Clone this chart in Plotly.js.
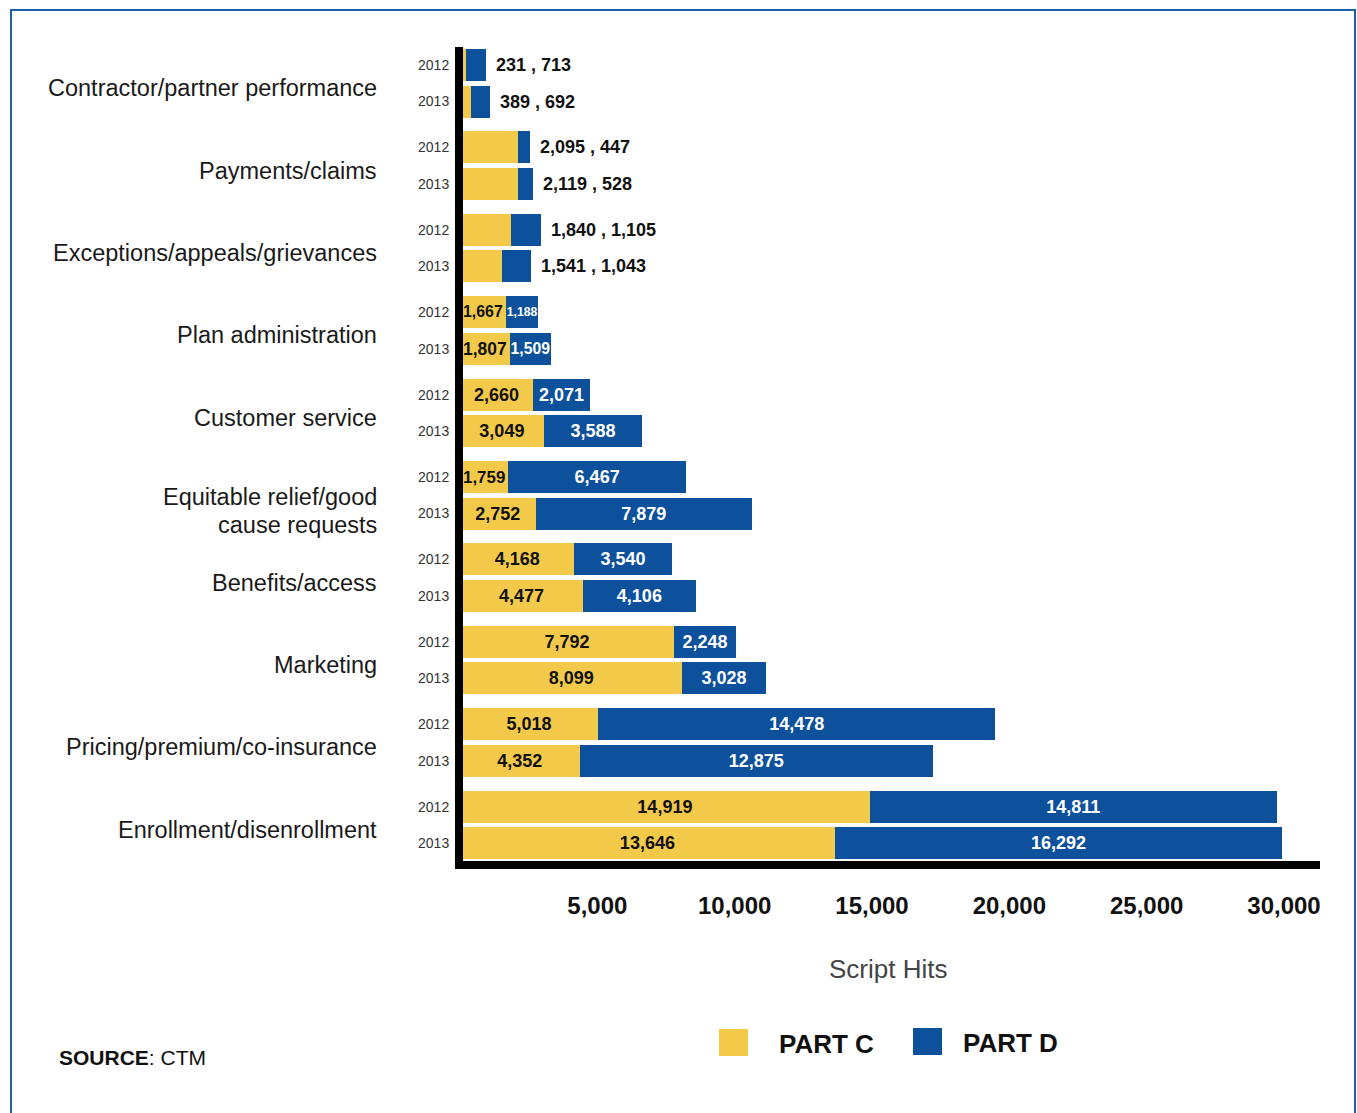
<!DOCTYPE html>
<html>
<head>
<meta charset="utf-8">
<script src="https://cdn.plot.ly/plotly-3.0.1.min.js"></script>
<style>
  html, body { margin: 0; padding: 0; background: #ffffff; }
  #chart { width: 1357px; height: 1113px; }
</style>
</head>
<body>
<div id="chart"></div>
<script>
// Complaint categories, top to bottom
const categories = [
  'Contractor/partner performance',
  'Payments/claims',
  'Exceptions/appeals/grievances',
  'Plan administration',
  'Customer service',
  'Equitable relief/good<br>cause requests',
  'Benefits/access',
  'Marketing',
  'Pricing/premium/co-insurance',
  'Enrollment/disenrollment'
];
const years = ['2012', '2013'];

// Script hits per category
const partC2012 = [231, 2095, 1840, 1667, 2660, 1759, 4168, 7792, 5018, 14919];
const partD2012 = [713, 447, 1105, 1188, 2071, 6467, 3540, 2248, 14478, 14811];
const partC2013 = [389, 2119, 1541, 1807, 3049, 2752, 4477, 8099, 4352, 13646];
const partD2013 = [692, 528, 1043, 1509, 3588, 7879, 4106, 3028, 12875, 16292];

const xTicks = [5000, 10000, 15000, 20000, 25000, 30000];
const seriesNames = ['PART C', 'PART D'];
const xTitle = 'Script Hits';
const sourceNote = '<b>SOURCE</b>: CTM';

// Small categories get a "C , D" label beside the bar instead of inside it
const OUTSIDE_LABEL_GROUPS = 3;

// ---- layout geometry ----
const W = 1357, H = 1113;
const ML = 460, MR = 37, MT = 47, MB = 252;
const PW = W - ML - MR, PH = H - MT - MB;
const PX_PER_UNIT = (1284 - ML) / 30000;  // horizontal scale
const GROUP_STEP = 82.4;                  // px between category groups
const YEAR_OFFSET = 0.444;                // 2013 row offset inside a group
const BAR_W = 0.39;
const LABEL_LINE_PX = 28;                 // line spacing of wrapped category names
const FONT = 'Liberation Sans, Arial, Helvetica, sans-serif';
const YELLOW = '#F3C94A';
const BLUE = '#0D519D';
const VALUE_SIZE = 18;

const px2x = p => (p - ML) / PW;
const py2y = p => (MT + PH - p) / PH;
const fmt = v => v.toLocaleString('en-US');

const yTop = -18 / GROUP_STEP;
const yBottom = yTop + PH / GROUP_STEP;

// rows: one per category and year
const rowY = [], rowC = [], rowD = [], rowYear = [], rowGroup = [];
categories.forEach((c, g) => {
  [[partC2012, partD2012], [partC2013, partD2013]].forEach((pair, j) => {
    rowY.push(g + j * YEAR_OFFSET);
    rowC.push(pair[0][g]);
    rowD.push(pair[1][g]);
    rowYear.push(years[j]);
    rowGroup.push(g);
  });
});

const insideC = rowC.map((v, i) => rowGroup[i] < OUTSIDE_LABEL_GROUPS ? '' : fmt(v));
const insideD = rowD.map((v, i) => rowGroup[i] < OUTSIDE_LABEL_GROUPS ? '' : fmt(v));

// Part D labels keep full size unless their segment is too narrow
const ctx = document.createElement('canvas').getContext('2d');
ctx.font = 'bold ' + VALUE_SIZE + 'px "Liberation Sans", Arial, sans-serif';
const sizeD = rowD.map((v, i) => {
  const w = ctx.measureText(insideD[i] || '0').width;
  const room = v * PX_PER_UNIT - 2;
  return Math.min(VALUE_SIZE, VALUE_SIZE * room / w);
});

const labelFont = { family: FONT, size: VALUE_SIZE, weight: 'bold' };

const traces = [
  {
    type: 'bar', orientation: 'h', name: seriesNames[0],
    x: rowC, y: rowY, width: BAR_W,
    marker: { color: YELLOW, line: { width: 0 } },
    text: insideC, textposition: 'inside', insidetextanchor: 'middle',
    textangle: 0, constraintext: 'inside',
    insidetextfont: Object.assign({}, labelFont, { color: '#111111' }),
    hoverinfo: 'skip'
  },
  {
    type: 'bar', orientation: 'h', name: seriesNames[1],
    x: rowD, y: rowY, width: BAR_W,
    marker: { color: BLUE, line: { width: 0 } },
    text: insideD, textposition: 'inside', insidetextanchor: 'middle',
    textangle: 0, constraintext: 'none',
    insidetextfont: Object.assign({}, labelFont, { color: '#ffffff', size: sizeD }),
    hoverinfo: 'skip'
  }
];

const annotations = [];

// "C , D" labels beside the short bars
rowY.forEach((y, i) => {
  if (rowGroup[i] >= OUTSIDE_LABEL_GROUPS) return;
  annotations.push({
    xref: 'x', yref: 'y', x: rowC[i] + rowD[i], y: y,
    xanchor: 'left', yanchor: 'middle', xshift: 8, showarrow: false,
    text: fmt(rowC[i]) + ' , ' + fmt(rowD[i]),
    font: Object.assign({}, labelFont, { color: '#111111' })
  });
});

// category names, one annotation per text line
categories.forEach((c, g) => {
  const lines = c.split('<br>');
  const base = lines.length > 1 ? -2 : -5;
  lines.forEach((line, k) => {
    annotations.push({
      xref: 'paper', yref: 'y', x: px2x(379), y: g + YEAR_OFFSET / 2,
      xanchor: 'right', yanchor: 'middle', align: 'right',
      yshift: base - LABEL_LINE_PX * k,
      text: line, showarrow: false,
      font: { family: FONT, size: 23.5, color: '#1a1a1a' }
    });
  });
});

annotations.push({
  xref: 'paper', yref: 'paper', x: px2x(888), y: py2y(969),
  xanchor: 'center', yanchor: 'middle', showarrow: false,
  text: xTitle, font: { family: FONT, size: 26, color: '#444444' }
});
annotations.push({
  xref: 'paper', yref: 'paper', x: px2x(777), y: py2y(1044),
  xanchor: 'left', yanchor: 'middle', showarrow: false,
  text: '<b>' + seriesNames[0] + '</b>', font: { family: FONT, size: 26, color: '#111111' }
});
annotations.push({
  xref: 'paper', yref: 'paper', x: px2x(961), y: py2y(1043),
  xanchor: 'left', yanchor: 'middle', showarrow: false,
  text: '<b>' + seriesNames[1] + '</b>', font: { family: FONT, size: 26, color: '#111111' }
});
annotations.push({
  xref: 'paper', yref: 'paper', x: px2x(57), y: py2y(1057),
  xanchor: 'left', yanchor: 'middle', showarrow: false,
  text: sourceNote, font: { family: FONT, size: 21, color: '#111111' }
});

const rectPx = (x0, y0, x1, y1, fill, line) => Object.assign({
  type: 'rect', xref: 'paper', yref: 'paper', layer: 'above',
  x0: px2x(x0), x1: px2x(x1), y0: py2y(y0), y1: py2y(y1)
}, fill ? { fillcolor: fill, line: { width: 0 } } : { fillcolor: 'rgba(0,0,0,0)', line: line });

const shapes = [
  // frame
  rectPx(11, 10, 1355, 1130, null, { color: '#1F5FA8', width: 2 }),
  // heavy axis lines
  rectPx(455, 47, 463, 869, '#000000'),
  rectPx(455, 861, 1320, 869, '#000000'),
  // legend swatches
  rectPx(719, 1029, 748, 1056, YELLOW),
  rectPx(913, 1028, 942, 1055, BLUE)
];

const layout = {
  width: W, height: H,
  margin: { l: ML, r: MR, t: MT, b: MB, pad: 0 },
  paper_bgcolor: '#ffffff', plot_bgcolor: '#ffffff',
  barmode: 'stack', bargap: 0,
  showlegend: false,
  font: { family: FONT },
  xaxis: {
    range: [0, PW / PX_PER_UNIT],
    tickvals: xTicks, tickformat: ',d',
    ticks: 'outside', ticklen: 23, tickcolor: 'rgba(0,0,0,0)',
    tickfont: { family: FONT, size: 24, color: '#111111', weight: 'bold' },
    showgrid: false, zeroline: false, showline: false, fixedrange: true
  },
  yaxis: {
    range: [yBottom, yTop],
    tickvals: rowY, ticktext: rowYear,
    ticks: 'outside', ticklen: 7, tickcolor: 'rgba(0,0,0,0)',
    tickfont: { family: FONT, size: 14, color: '#333333' },
    showgrid: false, zeroline: false, showline: false, fixedrange: true
  },
  annotations: annotations,
  shapes: shapes
};

Plotly.newPlot('chart', traces, layout, { displayModeBar: false, staticPlot: true });
</script>
</body>
</html>
